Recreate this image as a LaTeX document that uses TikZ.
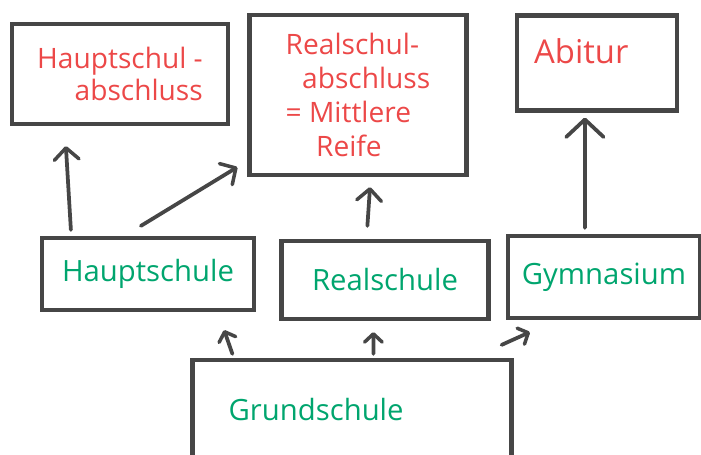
\documentclass[tikz,border=0pt]{standalone}
\usepackage{fontspec}
\setmainfont{Open Sans}
\usetikzlibrary{arrows.meta, calc}

\definecolor{boxgray}{RGB}{70,70,70}
\definecolor{penred}{RGB}{236,72,72}
\definecolor{pengreen}{RGB}{0,165,110}

\tikzset{
  box/.style={draw=boxgray, line width=3.6pt, inner sep=0pt},
  redtext/.style={text=penred, font=\fontsize{24}{27}\selectfont},
  greentext/.style={text=pengreen, font=\fontsize{25}{28}\selectfont},
  arr/.style={draw=boxgray, line width=3.2pt, line cap=round,
    -{Straight Barb[length=10pt, width=21pt, line width=3pt, round]}},
  smallarr/.style={arr, -{Straight Barb[length=7pt, width=15pt, line width=3pt, round]}},
  bigarr/.style={arr, -{Straight Barb[length=15pt, width=32pt, line width=3.2pt, round]}}
}

\begin{document}
\begin{tikzpicture}[x=0.03cm, y=-0.03cm]

\useasboundingbox (0,0) rectangle (701,455);

% --- Abschluesse (top row) ---
\node[box, redtext, align=right, minimum width=6.48cm, minimum height=3.0cm] (habs) at (120,74) {Hauptschul -\\abschluss};
\node[box, redtext, font=\fontsize{24}{29}\selectfont, align=left, minimum width=6.51cm, minimum height=4.8cm] (rabs) at (358,95)
  {Realschul-\\\hspace*{14pt}abschluss\\= Mittlere\\\hspace*{26pt}Reife};
\node[box, minimum width=4.8cm, minimum height=2.85cm] (abi) at (597,63) {};
\node[redtext, font=\fontsize{28}{30}\selectfont, anchor=base west] (abitxt) at (530,64) {Abitur};

% --- Schulformen (middle row) ---
\node[box, greentext, minimum width=6.36cm, minimum height=2.16cm] (hs) at (148,274) {Hauptschule};
\node[box, greentext, minimum width=6.21cm, minimum height=2.34cm] (rs) at (385,280) {Realschule};
\node[box, greentext, minimum width=5.76cm, minimum height=2.46cm] (gym) at (604,277) {Gymnasium};

% --- Grundschule (bottom) ---
\node[box, greentext, text width=7.4cm, align=left, minimum width=9.57cm, minimum height=3.0cm] (gs) at (352,410) {Grundschule};

% --- Arrows ---
\draw[arr] ($(hs.north west)+(31,-6)$) -- ($(habs.south west)+(56,20)$);
\draw[arr] ($(hs.north west)+(101,-10)$) -- ($(rabs.south west)+(-10,-10)$);
\draw[arr] ($(rs.north west)+(88,-13)$) -- ($(rabs.south)+(12,10)$);
\draw[bigarr] ($(gym.north west)+(79,-6)$) -- ($(abi.south west)+(70,5)$);

\draw[smallarr] ($(gs.north west)+(42,-4)$) -- ($(hs.south east)+(-32,18)$);
\draw[smallarr] ($(gs.north west)+(183,-4)$) -- ($(rs.south west)+(94,11)$);
\draw[smallarr] ($(gs.north east)+(-12,-13)$) -- ($(gym.south west)+(24,12)$);

\end{tikzpicture}
\end{document}
